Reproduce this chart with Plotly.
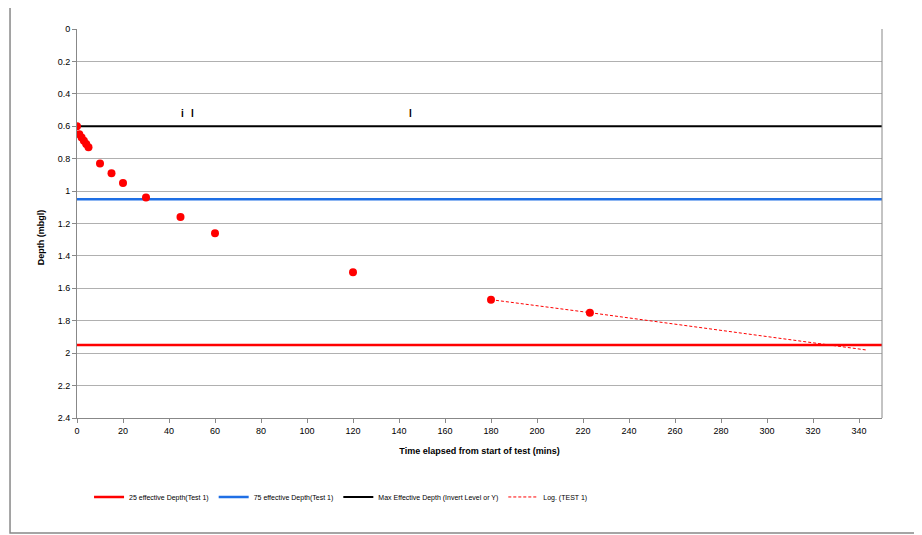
import plotly.graph_objects as go

# Data
time_min = [0, 1, 2, 3, 4, 5, 10, 15, 20, 30, 45, 60, 120, 180, 223]
depth_m = [0.60, 0.65, 0.67, 0.69, 0.71, 0.73, 0.83, 0.89, 0.95, 1.04, 1.16, 1.26, 1.50, 1.67, 1.75]

line_x = [0, 350]
depth_25 = 1.95
depth_75 = 1.05
depth_max = 0.60

trend_x = [180, 223, 343]
trend_y = [1.67, 1.75, 1.98]

label_x = [46, 50, 145]
label_y = [0.52, 0.52, 0.52]
label_text = ["i", "l", "l"]

FONT = "Liberation Sans"

fig = go.Figure()
fig.add_trace(go.Scatter(x=line_x, y=[depth_25, depth_25], mode="lines",
                         line=dict(color="#ff0000", width=2.5),
                         name="25 effective Depth(Test 1)"))
fig.add_trace(go.Scatter(x=line_x, y=[depth_75, depth_75], mode="lines",
                         line=dict(color="#1f6fe5", width=2.5),
                         name="75 effective Depth(Test 1)"))
fig.add_trace(go.Scatter(x=line_x, y=[depth_max, depth_max], mode="lines",
                         line=dict(color="#000000", width=2),
                         name="Max Effective Depth (Invert Level or Y)"))
fig.add_trace(go.Scatter(x=trend_x, y=trend_y, mode="lines",
                         line=dict(color="#ff0000", width=1, dash="3px,2px"),
                         name="Log. (TEST 1)"))
fig.add_trace(go.Scatter(x=time_min, y=depth_m, mode="markers",
                         marker=dict(color="#ff0000", size=8),
                         name="TEST 1", showlegend=False))

for lx, ly, lt in zip(label_x, label_y, label_text):
    fig.add_annotation(x=lx, y=ly, text="<b>" + lt + "</b>", showarrow=False,
                       font=dict(family=FONT, size=10, color="black"))

# y-axis title placed as annotation to match reference position
fig.add_annotation(xref="paper", yref="paper", x=-0.0447, y=0.465,
                   text="<b>Depth (mbgl)</b>", textangle=-90, showarrow=False,
                   xanchor="center", yanchor="middle",
                   font=dict(family=FONT, size=9, color="black"))

fig.update_layout(
    width=922, height=535,
    margin=dict(l=69, r=48, t=21, b=125),
    paper_bgcolor="white", plot_bgcolor="white",
    font=dict(family=FONT, size=9, color="#000"),
    showlegend=True,
    legend=dict(orientation="h", x=0.328, xanchor="center", y=-0.203, yanchor="middle",
                font=dict(size=7, family=FONT), itemwidth=30,
                bgcolor="rgba(0,0,0,0)", traceorder="normal"),
    xaxis=dict(range=[0, 350], dtick=20, tick0=0, showgrid=False,
               showline=True, linecolor="#888", linewidth=1,
               ticks="outside", ticklen=4, tickcolor="#888",
               tickfont=dict(size=9, family=FONT),
               title=dict(text="<b>Time elapsed from start of test (mins)</b>",
                          font=dict(size=9), standoff=12),
               zeroline=False, mirror=False),
    yaxis=dict(range=[2.4, 0], dtick=0.2, tick0=0, showgrid=True,
               gridcolor="#b0b0b0", gridwidth=1,
               showline=True, linecolor="#888", linewidth=1,
               ticks="outside", ticklen=4, tickcolor="#888",
               tickfont=dict(size=9, family=FONT),
               zeroline=False),
)
# right edge line of plot area
fig.add_shape(type="line", xref="paper", yref="paper", x0=1, x1=1, y0=0, y1=1,
              line=dict(color="#888", width=1))
# outer chart border
fig.add_shape(type="rect", xref="paper", yref="paper",
              x0=-0.0832, x1=1.053, y0=-0.2956, y1=1.0668,
              line=dict(color="#888", width=1.5))

fig.write_html("out.html")
